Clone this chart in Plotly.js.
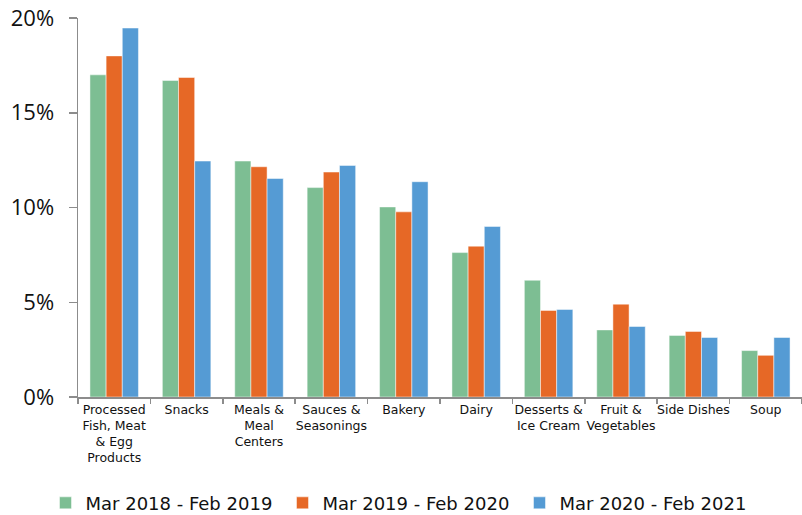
<!DOCTYPE html>
<html>
<head>
<meta charset="utf-8">
<script src="https://cdn.plot.ly/plotly-3.0.1.min.js"></script>
<style>html,body{margin:0;padding:0;background:#fff;}#chart{width:802px;height:515px;}</style>
</head>
<body>
<div id="chart"></div>
<script>
const categories = [
  "Processed<br>Fish, Meat<br>& Egg<br>Products",
  "Snacks",
  "Meals &<br>Meal<br>Centers",
  "Sauces &<br>Seasonings",
  "Bakery",
  "Dairy",
  "Desserts &<br>Ice Cream",
  "Fruit &<br>Vegetables",
  "Side Dishes",
  "Soup"
];
const seriesNames = ["Mar 2018 - Feb 2019", "Mar 2019 - Feb 2020", "Mar 2020 - Feb 2021"];
const period2018 = [0.170, 0.167, 0.1245, 0.1105, 0.1003, 0.0762, 0.0616, 0.0354, 0.0325, 0.0245];
const period2019 = [0.180, 0.1686, 0.1215, 0.1187, 0.0977, 0.0796, 0.0457, 0.0490, 0.0346, 0.0220];
const period2020 = [0.1947, 0.1245, 0.1153, 0.1222, 0.1136, 0.0900, 0.0462, 0.0372, 0.0314, 0.0314];
const colors = ["#7dbe93", "#e66826", "#559bd4"];

const values = [period2018, period2019, period2020];
const traces = values.map((v, i) => ({
  type: "bar",
  name: seriesNames[i],
  x: categories,
  y: v,
  marker: {color: colors[i], line: {color: "rgba(255,255,255,0.6)", width: 0.8}},
  hoverinfo: "x+y"
}));

const layout = {
  width: 802,
  height: 515,
  margin: {l: 78, r: 0, t: 18, b: 118},
  paper_bgcolor: "#fff",
  plot_bgcolor: "#fff",
  barmode: "group",
  bargap: 0.33,
  bargroupgap: 0,
  showlegend: true,
  legend: {
    orientation: "h",
    xref: "container", yref: "container",
    x: 0.5, xanchor: "center",
    y: 0.023, yanchor: "middle",
    font: {family: "DejaVu Sans, sans-serif", size: 18, color: "#111"},
    itemwidth: 30,
    entrywidth: 192,
    entrywidthmode: "pixels",
    traceorder: "normal"
  },
  xaxis: {
    type: "category",
    showline: true,
    linecolor: "#8c8c8c",
    linewidth: 1.5,
    ticks: "outside",
    tickson: "boundaries",
    ticklen: 5,
    tickcolor: "#8c8c8c",
    tickwidth: 1.5,
    showgrid: false,
    tickfont: {family: "DejaVu Sans, sans-serif", size: 12.5, color: "#111"},
    tickangle: 0
  },
  yaxis: {
    range: [0, 0.2],
    tickvals: [0, 0.05, 0.1, 0.15, 0.2],
    tickformat: ".0%",
    showline: true,
    linecolor: "#8c8c8c",
    linewidth: 1.5,
    ticks: "outside",
    ticklen: 8,
    tickcolor: "#8c8c8c",
    tickwidth: 1.5,
    ticklabelstandoff: 10,
    showgrid: false,
    zeroline: false,
    tickfont: {family: "Open Sans, sans-serif", size: 22, color: "#111"}
  }
};

Plotly.newPlot("chart", traces, layout, {displayModeBar: false, staticPlot: true});
</script>
</body>
</html>
